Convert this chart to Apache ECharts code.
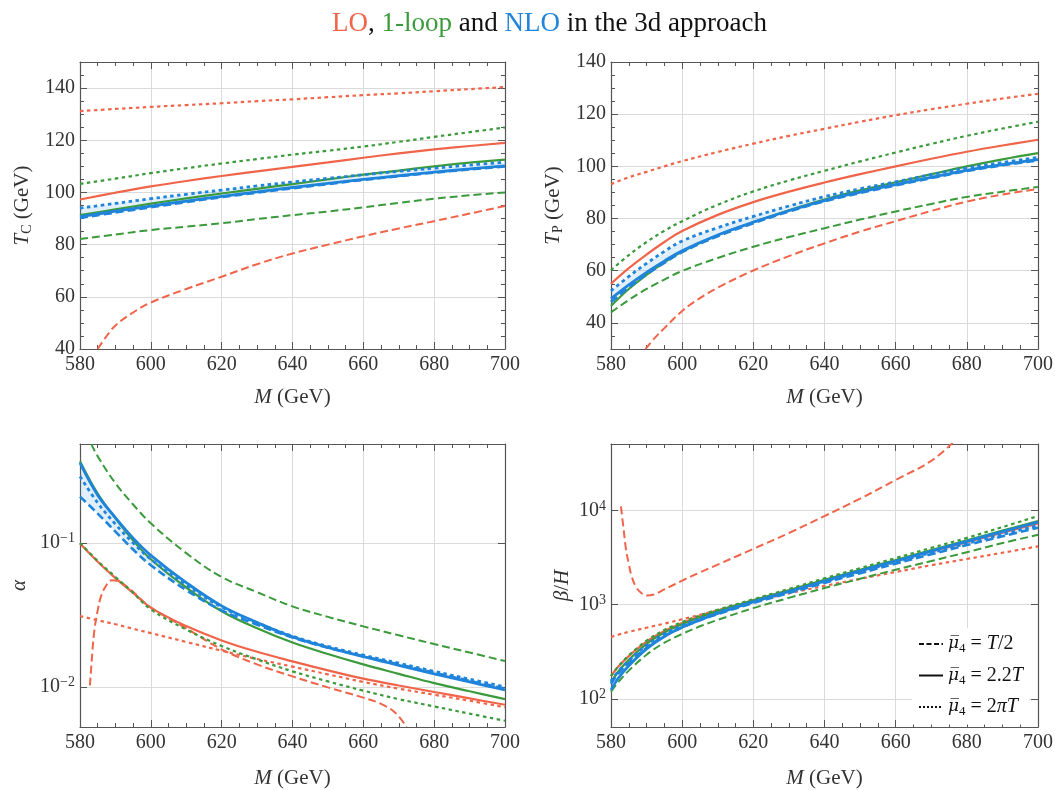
<!DOCTYPE html>
<html>
<head>
<meta charset="utf-8">
<script src="https://cdn.jsdelivr.net/npm/echarts@6/dist/echarts.min.js"></script>
<style>
  html, body { margin: 0; padding: 0; background: #fff; }
  #chart { width: 1056px; height: 790px; }
</style>
</head>
<body>
<div id="chart"></div>
<script>
// ---------- data: (a) critical temperature T_C [GeV] ----------
const mA = [580, 590, 600, 610, 620, 630, 640, 650, 660, 670, 680, 690, 700];
const tcLoDot   = [131.2, 132.0, 132.8, 133.5, 134.2, 135.0, 135.7, 136.5, 137.3, 138.0, 138.8, 139.6, 140.4];
const tcLoSolid = [97.3, 99.9, 102.3, 104.4, 106.3, 108.1, 109.8, 111.5, 113.3, 115.0, 116.5, 117.8, 119.0];
const tcLoDashM = [585, 587, 590, 595, 600, 610, 620, 630, 640, 650, 660, 670, 680, 690, 700];
const tcLoDash  = [40, 44, 49, 54, 57.8, 63, 67.7, 72.5, 76.6, 80, 83.2, 86.2, 89, 91.9, 94.8];
const tc1Dot    = [103.3, 105.3, 107.4, 109.3, 111.1, 112.8, 114.5, 116.0, 117.6, 119.4, 121.3, 123.1, 124.9];
const tc1Solid  = [91.3, 93.5, 95.7, 97.7, 99.6, 101.4, 103.2, 105.0, 106.8, 108.4, 110.0, 111.4, 112.6];
const tc1Dash   = [82.2, 83.9, 85.6, 86.9, 88.2, 89.8, 91.3, 92.7, 94.3, 96.0, 97.6, 98.9, 100.0];
const tcNloDot  = [94.0, 95.8, 97.6, 99.3, 100.9, 102.5, 104.0, 105.4, 106.8, 108.1, 109.3, 110.5, 111.6];
const tcNloSolid= [90.7, 92.8, 94.8, 96.7, 98.5, 100.2, 101.9, 103.5, 105.0, 106.4, 107.8, 109.0, 110.2];
const tcNloDash = [90.2, 92.3, 94.3, 96.3, 98.2, 99.9, 101.6, 103.2, 104.8, 106.2, 107.6, 108.8, 110.0];

// ---------- data: (b) percolation temperature T_P [GeV] ----------
const mB = [580, 585, 590, 595, 600, 610, 620, 630, 640, 650, 660, 670, 680, 690, 700];
const tpLoDot   = [93.2, 95.8, 97.9, 100.0, 102.0, 105.5, 108.7, 111.7, 114.4, 117.1, 119.6, 121.9, 124.0, 126.0, 127.8];
const tpLoSolid = [55.0, 61.0, 66.2, 71.0, 75.2, 81.4, 86.3, 90.3, 93.8, 97.0, 100.0, 102.9, 105.6, 108.0, 110.2];
const tpLoDashM = [589.7, 592, 595, 600, 605, 610, 620, 630, 640, 650, 660, 670, 680, 690, 700];
const tpLoDash  = [30, 33.8, 38, 44.6, 49.5, 53.5, 60.1, 65.6, 70.5, 75, 79.0, 82.9, 86.5, 89.2, 91.3];
const tp1Dot    = [60.2, 66.0, 71.0, 75.3, 79.0, 85.3, 90.4, 94.6, 98.3, 101.9, 105.3, 108.6, 111.7, 114.5, 117.1];
const tp1Solid  = [46.5, 53.0, 58.4, 63.2, 67.4, 73.6, 78.6, 83.2, 87.3, 90.8, 93.9, 97.0, 100.0, 102.7, 105.1];
const tp1Dash   = [44.0, 48.8, 53.0, 56.6, 59.9, 64.9, 69.2, 72.9, 76.3, 79.6, 82.7, 85.6, 88.3, 90.3, 92.1];
const tpNloDot  = [52.3, 57.8, 62.8, 67.4, 71.4, 76.5, 80.8, 84.8, 88.4, 91.4, 94.1, 96.8, 99.4, 101.5, 103.4];
const tpNloSolid= [49.3, 54.6, 59.4, 63.7, 67.7, 73.7, 78.6, 83.0, 86.9, 90.1, 93.0, 95.8, 98.5, 100.7, 102.6];
const tpNloDash = [48.0, 53.6, 58.6, 63.0, 67.1, 73.2, 78.2, 82.7, 86.6, 89.8, 92.7, 95.5, 98.2, 100.4, 102.3];

// ---------- data: (c) transition strength alpha ----------
const mC = [580, 585, 590, 595, 600, 610, 620, 630, 640, 650, 660, 670, 680, 690, 700];
const alLoSolid = [0.099, 0.074, 0.057, 0.045, 0.0355, 0.0264, 0.0210, 0.0175, 0.0150, 0.0130, 0.0114, 0.0102, 0.0092, 0.0083, 0.0075];
const alLoDot   = [0.031, 0.0290, 0.0272, 0.0253, 0.0236, 0.0205, 0.0178, 0.0156, 0.0138, 0.0122, 0.0108, 0.0097, 0.0088, 0.0080, 0.0072];
const alLoDashM = [582.8, 583.3, 584, 585, 586, 587.5, 589, 591, 594, 597, 600, 610, 620, 630, 640, 650, 660, 665, 669, 672.2];
const alLoDash  = [0.0102, 0.015, 0.024, 0.034, 0.043, 0.051, 0.055, 0.054, 0.048, 0.041, 0.0355, 0.0255, 0.0182, 0.0143, 0.0118, 0.0099, 0.0084, 0.0076, 0.0066, 0.00525];
const al1Dot    = [0.100, 0.075, 0.058, 0.045, 0.0345, 0.0250, 0.0192, 0.0155, 0.0128, 0.0109, 0.0094, 0.0082, 0.0073, 0.0065, 0.0058];
const al1Solid  = [0.37, 0.22, 0.148, 0.104, 0.077, 0.049, 0.0335, 0.0255, 0.0203, 0.0169, 0.0143, 0.0123, 0.0106, 0.0093, 0.0082];
const al1DashM  = [583.2, 585, 590, 595, 600, 610, 620, 630, 640, 650, 660, 670, 680, 690, 700];
const al1Dash   = [0.487, 0.40, 0.26, 0.185, 0.137, 0.085, 0.058, 0.0455, 0.0362, 0.0306, 0.0263, 0.0228, 0.0198, 0.0173, 0.0151];
const alNloDot  = [0.29, 0.19, 0.135, 0.100, 0.077, 0.051, 0.0358, 0.0279, 0.0225, 0.0191, 0.0166, 0.0146, 0.0128, 0.0113, 0.0100];
const alNloSolid= [0.36, 0.215, 0.150, 0.108, 0.082, 0.053, 0.0365, 0.0280, 0.0222, 0.0188, 0.0162, 0.0141, 0.0123, 0.0108, 0.0095];
const alNloDash = [0.21, 0.16, 0.120, 0.090, 0.070, 0.047, 0.0340, 0.0270, 0.0220, 0.0187, 0.0163, 0.0143, 0.0125, 0.0110, 0.0097];

// ---------- data: (d) inverse duration beta/H ----------
const mD = [580, 582, 585, 590, 595, 600, 605, 610, 620, 630, 640, 650, 660, 670, 680, 690, 700];
const bhLoSolid = [175, 220, 285, 405, 525, 640, 755, 865, 1110, 1420, 1810, 2290, 2900, 3660, 4600, 5800, 7250];
const bhLoDot   = [455, 480, 515, 570, 630, 700, 780, 870, 1080, 1320, 1580, 1880, 2220, 2620, 3050, 3550, 4150];
const bhLoDashM = [582.8, 583.5, 584.2, 585, 585.8, 587, 588.5, 590.2, 592, 595, 600, 605, 610, 620, 630, 640, 650, 660, 670, 676];
const bhLoDash  = [11000, 6500, 3900, 2700, 2000, 1550, 1330, 1250, 1280, 1450, 1800, 2200, 2660, 3900, 5750, 8700, 13300, 21000, 33500, 52000];
const bh1Dot    = [175, 220, 290, 415, 540, 655, 770, 885, 1140, 1470, 1900, 2440, 3120, 4000, 5100, 6650, 8700];
const bh1Solid  = [150, 195, 260, 385, 505, 620, 735, 855, 1110, 1420, 1830, 2340, 2980, 3800, 4800, 6100, 7700];
const bh1Dash   = [120, 150, 200, 295, 395, 490, 590, 690, 920, 1180, 1500, 1880, 2350, 2900, 3600, 4500, 5500];
const bhNloDot  = [155, 195, 255, 370, 490, 600, 715, 830, 1080, 1380, 1760, 2240, 2830, 3560, 4450, 5550, 6900];
const bhNloSolid= [125, 165, 225, 340, 460, 575, 690, 810, 1070, 1380, 1780, 2280, 2900, 3700, 4700, 5950, 7500];
const bhNloDash = [145, 185, 240, 350, 465, 575, 685, 795, 1040, 1330, 1700, 2150, 2720, 3420, 4280, 5300, 6550];

// renormalisation-scale choices shown in the legend
const scaleNames = ['T/2', '2.2T', '2\u03C0T'];

// ---------- styling ----------
const RED = '#F0654A', GREEN = '#3B9A3B', BLUE = '#1F84DA', BAND = 'rgba(40,140,225,0.14)';
const FONT = '"Liberation Serif","Times New Roman",serif';
const INK = '#333', FRAME = '#555', GRIDLINE = '#dadada';
const STROKE = {
  dashed: { type: [8, 4], width: 2 },
  solid:  { type: 'solid', width: 2.2 },
  dotted: { type: [3.5, 3.5], width: 2.2 }
};
// the NLO curves are drawn a little heavier
const NLO_EXTRA = 0.6;

const grids = [
  { left: 80,  top: 62,  width: 425, height: 287 },
  { left: 611, top: 62,  width: 428, height: 287 },
  { left: 80,  top: 444, width: 425, height: 286 },
  { left: 611, top: 444, width: 428, height: 286 }
];

const richText = {
  i:   { fontFamily: FONT, fontStyle: 'italic', fontSize: 21, color: INK },
  s:   { fontFamily: FONT, fontSize: 14, color: INK, verticalAlign: 'top', padding: [10, 0, 0, 0] },
  sup: { fontFamily: FONT, fontSize: 14, color: INK, verticalAlign: 'bottom', padding: [0, 0, 9, 0] }
};

function linearLabel(v) { return v % 20 === 0 ? String(v) : ''; }
function logLabel(v) {
  const e = Math.log10(v), n = Math.round(e);
  if (Math.abs(e - n) > 1e-6) return '';
  return '10{sup|' + (n < 0 ? '\u2212' + (-n) : n) + '}';
}

const tickStyle = { show: true, inside: true, length: 7, lineStyle: { color: FRAME, width: 1 } };
const minorStyle = { show: true, splitNumber: 4, length: 4, lineStyle: { color: FRAME, width: 1 } };
const lineAxis = { show: true, onZero: false, lineStyle: { color: FRAME, width: 1.2 } };

const yDefs = [
  { type: 'value', min: 40, max: 150, interval: 20, name: '{i|T}{s|C} (GeV)', nameGap: 46, log: false },
  { type: 'value', min: 30, max: 140, minInterval: 20, maxInterval: 20, name: '{i|T}{s|P} (GeV)', nameGap: 46, log: false },
  { type: 'log', logBase: 10, min: 0.00525, max: 0.4875, name: '{i|\u03B1}', nameGap: 50, log: true },
  { type: 'log', logBase: 10, min: 50.5, max: 50500, name: '{i|\u03B2}/{i|H}', nameGap: 38, log: true }
];

const xAxis = [], yAxis = [];
grids.forEach((g, i) => {
  const xb = { type: 'value', gridIndex: i, min: 580, max: 700, interval: 20 };
  xAxis.push(Object.assign({}, xb, {
    position: 'bottom',
    name: '{i|M} (GeV)', nameLocation: 'middle', nameGap: i < 2 ? 38 : 41,
    nameTextStyle: { fontFamily: FONT, fontSize: 21, color: INK, rich: richText },
    axisLine: lineAxis, axisTick: tickStyle, minorTick: minorStyle,
    splitLine: { show: true, lineStyle: { color: GRIDLINE, width: 1 } },
    axisLabel: { margin: 6, fontFamily: FONT, fontSize: 20, color: INK }
  }));
  xAxis.push(Object.assign({}, xb, {
    position: 'top', axisLine: lineAxis, axisTick: tickStyle, minorTick: minorStyle,
    splitLine: { show: false }, axisLabel: { show: false }
  }));

  const d = yDefs[i];
  const yb = { type: d.type, gridIndex: i, min: d.min, max: d.max };
  if (d.logBase) yb.logBase = d.logBase;
  if (d.interval) yb.interval = d.interval;
  if (d.minInterval) { yb.minInterval = d.minInterval; yb.maxInterval = d.maxInterval; }
  yAxis.push(Object.assign({}, yb, {
    position: 'left',
    name: d.name, nameLocation: 'middle', nameGap: d.nameGap,
    nameTextStyle: { fontFamily: FONT, fontSize: 21, color: INK, rich: richText },
    axisLine: lineAxis, axisTick: tickStyle,
    minorTick: d.log ? { show: false } : minorStyle,
    splitLine: { show: true, lineStyle: { color: GRIDLINE, width: 1 } },
    axisLabel: { margin: 5, fontFamily: FONT, fontSize: 20, color: INK,
      formatter: d.log ? logLabel : linearLabel, rich: richText }
  }));
  yAxis.push(Object.assign({}, yb, {
    position: 'right', axisLine: lineAxis, axisTick: tickStyle,
    minorTick: d.log ? { show: false } : minorStyle,
    splitLine: { show: false }, axisLabel: { show: false }
  }));
});

function curve(panel, xs, ys, color, kind, extra) {
  return {
    type: 'line', xAxisIndex: panel * 2, yAxisIndex: panel * 2,
    data: xs.map((x, k) => [x, ys[k]]),
    symbol: 'none', smooth: 0.4, silent: true, z: 3,
    lineStyle: { color, width: STROKE[kind].width + (extra || 0), type: STROKE[kind].type, cap: 'butt' }
  };
}

// shaded NLO scale-variation band between the envelope of the three NLO curves
function band(panel, xs, a, b, c) {
  const lo = xs.map((x, k) => Math.min(a[k], b[k], c[k]));
  const hi = xs.map((x, k) => Math.max(a[k], b[k], c[k]));
  return {
    type: 'custom', xAxisIndex: panel * 2, yAxisIndex: panel * 2,
    data: [[xs[0], hi[0]]], silent: true, z: 2, clip: true,
    renderItem(params, api) {
      const top = xs.map((x, k) => api.coord([x, hi[k]]));
      const bot = xs.map((x, k) => api.coord([x, lo[k]])).reverse();
      return { type: 'polygon', shape: { points: top.concat(bot) }, style: { fill: BAND } };
    }
  };
}

function panelSeries(p, m, loDashM, loDash, loSolid, loDot, oneDashM, oneDash, oneSolid, oneDot, nDash, nSolid, nDot) {
  return [
    band(p, m, nDash, nSolid, nDot),
    curve(p, loDashM, loDash, RED, 'dashed'),
    curve(p, m, loSolid, RED, 'solid'),
    curve(p, m, loDot, RED, 'dotted'),
    curve(p, oneDashM, oneDash, GREEN, 'dashed'),
    curve(p, m, oneSolid, GREEN, 'solid'),
    curve(p, m, oneDot, GREEN, 'dotted'),
    curve(p, m, nDash, BLUE, 'dashed', NLO_EXTRA),
    curve(p, m, nSolid, BLUE, 'solid', NLO_EXTRA),
    curve(p, m, nDot, BLUE, 'dotted', NLO_EXTRA)
  ];
}

const series = [].concat(
  panelSeries(0, mA, tcLoDashM, tcLoDash, tcLoSolid, tcLoDot, mA, tc1Dash, tc1Solid, tc1Dot, tcNloDash, tcNloSolid, tcNloDot),
  panelSeries(1, mB, tpLoDashM, tpLoDash, tpLoSolid, tpLoDot, mB, tp1Dash, tp1Solid, tp1Dot, tpNloDash, tpNloSolid, tpNloDot),
  panelSeries(2, mC, alLoDashM, alLoDash, alLoSolid, alLoDot, al1DashM, al1Dash, al1Solid, al1Dot, alNloDash, alNloSolid, alNloDot),
  panelSeries(3, mD, bhLoDashM, bhLoDash, bhLoSolid, bhLoDot, mD, bh1Dash, bh1Solid, bh1Dot, bhNloDash, bhNloSolid, bhNloDot)
);

// black key entries for the scale choices (line pattern only)
const keyKinds = ['dashed', 'solid', 'dotted'];
scaleNames.forEach((name, k) => {
  series.push({
    type: 'line', name, xAxisIndex: 6, yAxisIndex: 6, data: [], symbol: 'none', silent: true,
    lineStyle: { color: '#111', width: 2, type: keyKinds[k] === 'dashed' ? [5, 2.5] : keyKinds[k] === 'dotted' ? [2, 2] : 'solid' },
    itemStyle: { color: '#111' }
  });
});

const keyRhs = { 'T/2': '{it|T}/2', '2.2T': '2.2{it|T}', '2\u03C0T': '2{it|\u03C0T}' };

const option = {
  animation: false,
  backgroundColor: '#fff',
  title: {
    text: '{r|LO}, {g|1-loop} and {b|NLO} in the 3d approach',
    left: 327, top: 5,
    textStyle: {
      fontFamily: FONT, fontSize: 27, fontWeight: 'normal', color: '#111',
      rich: {
        r: { fontFamily: FONT, fontSize: 27, color: RED },
        g: { fontFamily: FONT, fontSize: 27, color: GREEN },
        b: { fontFamily: FONT, fontSize: 27, color: BLUE }
      }
    }
  },
  legend: {
    data: scaleNames, orient: 'vertical', left: 912, top: 628,
    itemWidth: 24, itemHeight: 14, itemGap: 10,
    backgroundColor: '#fff', padding: [6, 6, 6, 6], selectedMode: false,
    itemStyle: { opacity: 0 },
    formatter: name => '{mu|\u03BC\u0305}{sub|4} = ' + keyRhs[name],
    textStyle: {
      fontFamily: FONT, fontSize: 20, color: '#111',
      rich: {
        mu: { fontFamily: '"DejaVu Serif",serif', fontStyle: 'italic', fontSize: 17, color: '#111' },
        it: { fontFamily: FONT, fontStyle: 'italic', fontSize: 20, color: '#111' },
        sub: { fontFamily: FONT, fontSize: 13, color: '#111', verticalAlign: 'top', padding: [10, 0, 0, 0] }
      }
    }
  },
  grid: grids,
  xAxis, yAxis, series
};

const chart = echarts.init(document.getElementById('chart'), null, { renderer: 'canvas' });
chart.setOption(option);
</script>
</body>
</html>
